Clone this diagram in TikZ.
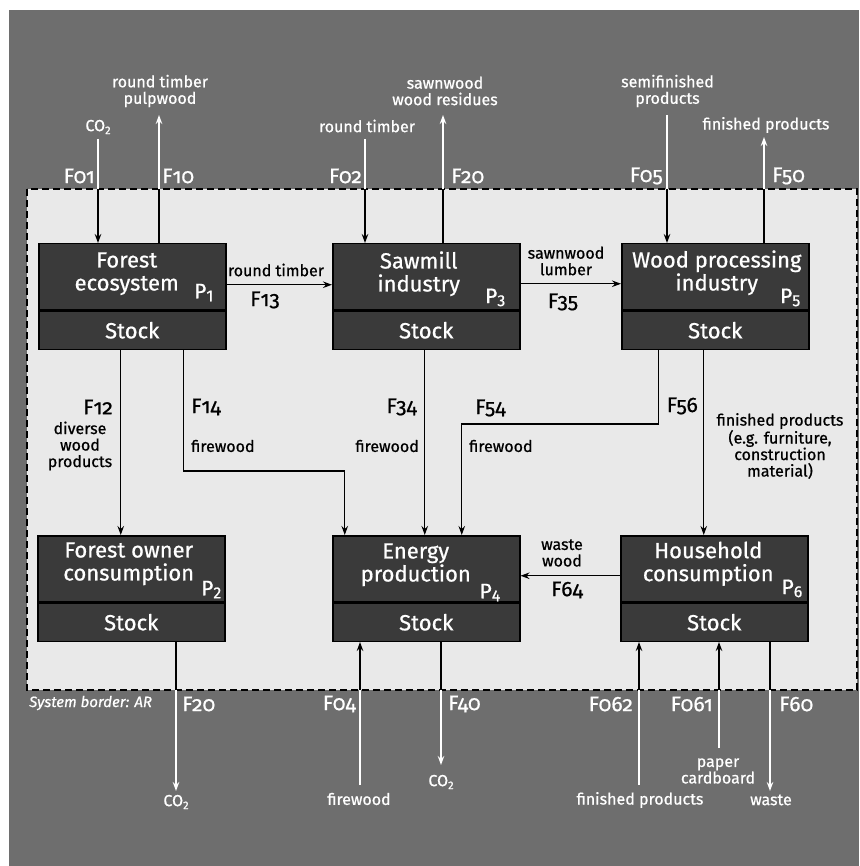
\documentclass[tikz,border=0pt]{standalone}
\usepackage{fontspec}
\setmainfont{Fira Sans}[FakeBold=0.7]
\newfontfamily\flowfont{Fira Sans}[Numbers=OldStyle,FakeBold=0.7]
\usetikzlibrary{arrows.meta}
\definecolor{outergray}{HTML}{6E6E6E}
\definecolor{innergray}{HTML}{E9E9E9}
\definecolor{boxgray}{HTML}{3A3A3A}
\newcommand{\psub}[1]{P{\fontsize{16}{16}\selectfont\raisebox{-3pt}{#1}}}
\newcommand{\cotwo}{CO{\fontsize{11}{11}\selectfont\raisebox{-3pt}{2}}}

\begin{document}
\begin{tikzpicture}[x=1pt,y=-1pt,
  box/.style={draw=black,line width=1.5pt,fill=boxgray,minimum width=187pt,minimum height=66pt,inner sep=0pt,anchor=north west},
  stockbox/.style={draw=black,line width=1.5pt,fill=boxgray,minimum width=187pt,minimum height=38pt,inner sep=0pt,anchor=north,text=white,font=\fontsize{22}{23}\selectfont},
  boxtitle/.style={text=white,align=center,inner sep=0pt,font=\fontsize{22}{23}\selectfont},
  pnum/.style={text=white,inner sep=0pt,anchor=south east,font=\fontsize{21}{21}\selectfont},
  flab/.style={inner sep=0pt,font=\flowfont\fontsize{21}{21}\selectfont},
  note/.style={inner sep=0pt,align=center,font=\fontsize{16}{16.5}\selectfont},
  bline/.style={draw=black,line width=1.3pt},
  wline/.style={draw=white,line width=1.3pt},
  arr/.style={-{Stealth[length=9pt,width=6.5pt]}}]
\useasboundingbox (0,0) rectangle (859,866);
\fill[white] (0,0) rectangle (859,866);
\fill[outergray] (9,10) rectangle (859,866);
\draw[fill=innergray,line width=1.3pt,dash pattern=on 7pt off 4pt] (27,189) rectangle (857,690);
\node[text=white,anchor=west,inner sep=0pt,font=\itshape\fontsize{15}{15}\selectfont] (border) at (29,703) {System border: AR};

\node[box] (p1) at (38,243) {};
\node[stockbox] (s1) at (p1.south) {Stock};
\node[boxtitle] (t1) at ([shift={(-5.5,-3)}]p1.center) {Forest\\ecosystem};
\node[pnum] (n1) at ([shift={(-13,-9)}]p1.south east) {\psub{1}};

\node[box] (p3) at (332,243) {};
\node[stockbox] (s3) at (p3.south) {Stock};
\node[boxtitle] (t3) at ([shift={(-7.5,-3)}]p3.center) {Sawmill\\industry};
\node[pnum] (n3) at ([shift={(-15,-4)}]p3.south east) {\psub{3}};

\node[box] (p5) at (621,243) {};
\node[stockbox] (s5) at (p5.south) {Stock};
\node[boxtitle] (t5) at ([shift={(1.5,-4)}]p5.center) {Wood processing\\industry};
\node[pnum] (n5) at ([shift={(-9,-4)}]p5.south east) {\psub{5}};

\node[box] (p2) at (37,535) {};
\node[stockbox] (s2) at (p2.south) {Stock};
\node[boxtitle] (t2) at ([shift={(-2.5,-5)}]p2.center) {Forest owner\\consumption};
\node[pnum] (n2) at ([shift={(-4,-4)}]p2.south east) {\psub{2}};

\node[box] (p4) at (332,535) {};
\node[stockbox] (s4) at (p4.south) {Stock};
\node[boxtitle] (t4) at ([shift={(-10.5,-4)}]p4.center) {Energy\\production};
\node[pnum] (n4) at ([shift={(-20,-1)}]p4.south east) {\psub{4}};

\node[box] (p6) at (620,535) {};
\node[stockbox] (s6) at (p6.south) {Stock};
\node[boxtitle] (t6) at ([shift={(-6,-5)}]p6.center) {Household\\consumption};
\node[pnum] (n6) at ([shift={(-6,-5)}]p6.south east) {\psub{6}};

\coordinate (b01) at (98,189);  \coordinate (e01) at (98,139);
\coordinate (b10) at (159,189); \coordinate (e10) at (159,115);
\coordinate (b02) at (365,189); \coordinate (e02) at (365,139);
\coordinate (b20) at (443,189); \coordinate (e20) at (443,115);
\coordinate (b05) at (667,189); \coordinate (e05) at (667,115);
\coordinate (b50) at (764,189); \coordinate (e50) at (764,137);

\node[note,text=white] (d01) at (98,127) {\cotwo};
\node[note,text=white] (d10) at (160,91) {round timber\\pulpwood};
\node[note,text=white] (d02) at (367,126) {round timber};
\node[note,text=white] (d20) at (445,91) {sawnwood\\wood residues};
\node[note,text=white] (d05) at (667.5,91) {semifinished\\products};
\node[note,text=white] (d50) at (766,125) {finished products};
\node[flab,text=white,anchor=east] (f01) at (95,176) {F01};
\node[flab,text=white,anchor=west] (f10) at (162,176) {F10};
\node[flab,text=white,anchor=east] (f02) at (362,176) {F02};
\node[flab,text=white,anchor=west] (f20) at (451,176) {F20};
\node[flab,text=white,anchor=east] (f05) at (663,176) {F05};
\node[flab,text=white,anchor=west] (f50) at (772,176) {F50};

\draw[wline] (e01) -- (b01);
\draw[bline,arr] (b01) -- (b01 |- p1.north);
\draw[bline] (b10 |- p1.north) -- (b10);
\draw[wline,arr] (b10) -- (e10);
\draw[wline] (e02) -- (b02);
\draw[bline,arr] (b02) -- (b02 |- p3.north);
\draw[bline] (b20 |- p3.north) -- (b20);
\draw[wline,arr] (b20) -- (e20);
\draw[wline] (e05) -- (b05);
\draw[bline,arr] (b05) -- (b05 |- p5.north);
\draw[bline] (b50 |- p5.north) -- (b50);
\draw[wline,arr] (b50) -- (e50);

\draw[bline,arr] ([yshift=-8pt]p1.east) -- ([yshift=-8pt]p1.east -| p3.west);
\node[note] (d13) at (276,270) {round timber};
\node[flab] (f13) at (265,300) {F13};
\draw[bline,arr] ([yshift=-7pt]p3.east) -- ([yshift=-7pt]p3.east -| p5.west);
\node[note] (d35) at (566,261) {sawnwood\\lumber};
\node[flab] (f35) at (563,302) {F35};

\draw[bline,arr] ([xshift=-11.5pt]s1.south) -- ([xshift=-11.5pt]s1.south |- p2.north);
\node[flab,anchor=east] (f12) at (113,407) {F12};
\node[note] (d12) at (80,446) {diverse\\wood\\products};
\draw[bline,arr] ([xshift=51.5pt]s1.south) |- ([xshift=-81.5pt,yshift=64pt]p4.north) -- ([xshift=-81.5pt]p4.north);
\node[flab,anchor=west] (f14) at (191,407) {F14};
\node[note,anchor=west] (d14) at (191,446) {firewood};
\draw[bline,arr] ([xshift=-1.5pt]s3.south) -- ([xshift=-1.5pt]s3.south |- p4.north);
\node[flab,anchor=east] (f34) at (417,407) {F34};
\node[note,anchor=east] (d34) at (419,446) {firewood};
\draw[bline,arr] ([xshift=-56.5pt]s5.south) |- ([xshift=35.5pt,yshift=111pt]p4.north) -- ([xshift=35.5pt]p4.north);
\node[flab,anchor=west] (f54) at (475,408) {F54};
\node[note,anchor=west] (d54) at (469,446) {firewood};
\draw[bline,arr] ([xshift=-11.5pt]s5.south) -- ([xshift=-11.5pt]s5.south |- p6.north);
\node[flab,anchor=east] (f56) at (698,406) {F56};
\node[note] (d56) at (780,446) {finished products\\(e.g. furniture,\\construction\\material)};
\draw[bline,arr] ([yshift=-7pt]p6.west) -- ([yshift=-7pt]p6.west -| p4.east);
\node[note] (d64) at (562,553) {waste\\wood};
\node[flab] (f64) at (567,590) {F64};

\coordinate (b2o) at (176,690); \coordinate (e2o) at (176,791);
\coordinate (b04) at (360,690); \coordinate (e04) at (360,785);
\coordinate (b40) at (441,690); \coordinate (e40) at (441,765);
\coordinate (b062) at (639,690); \coordinate (e062) at (639,785);
\coordinate (b061) at (719,690); \coordinate (e061) at (719,748);
\coordinate (b60) at (770,690); \coordinate (e60) at (770,791);

\draw[bline] (b2o |- s2.south) -- (b2o);
\draw[wline,arr] (b2o) -- (e2o);
\draw[wline] (e04) -- (b04);
\draw[bline,arr] (b04) -- (b04 |- s4.south);
\draw[bline] (b40 |- s4.south) -- (b40);
\draw[wline,arr] (b40) -- (e40);
\draw[wline] (e062) -- (b062);
\draw[bline,arr] (b062) -- (b062 |- s6.south);
\draw[wline] (e061) -- (b061);
\draw[bline,arr] (b061) -- (b061 |- s6.south);
\draw[bline] (b60 |- s6.south) -- (b60);
\draw[wline,arr] (b60) -- (e60);

\node[flab,text=white,anchor=west] (f2o) at (182,704) {F20};
\node[flab,text=white,anchor=east] (f04) at (356,704) {F04};
\node[flab,text=white,anchor=west] (f40) at (448,704) {F40};
\node[flab,text=white,anchor=east] (f062) at (633,704) {F062};
\node[flab,text=white,anchor=east] (f061) at (713,704) {F061};
\node[flab,text=white,anchor=west] (f60) at (779,704) {F60};
\node[note,text=white] (d2o) at (176,802) {\cotwo};
\node[note,text=white] (d04) at (359,799) {firewood};
\node[note,text=white] (d40) at (441,782) {\cotwo};
\node[note,text=white] (d062) at (640,800) {finished products};
\node[note,text=white] (d061) at (718,771) {paper\\cardboard};
\node[note,text=white] (d60) at (771,800) {waste};
\end{tikzpicture}
\end{document}
